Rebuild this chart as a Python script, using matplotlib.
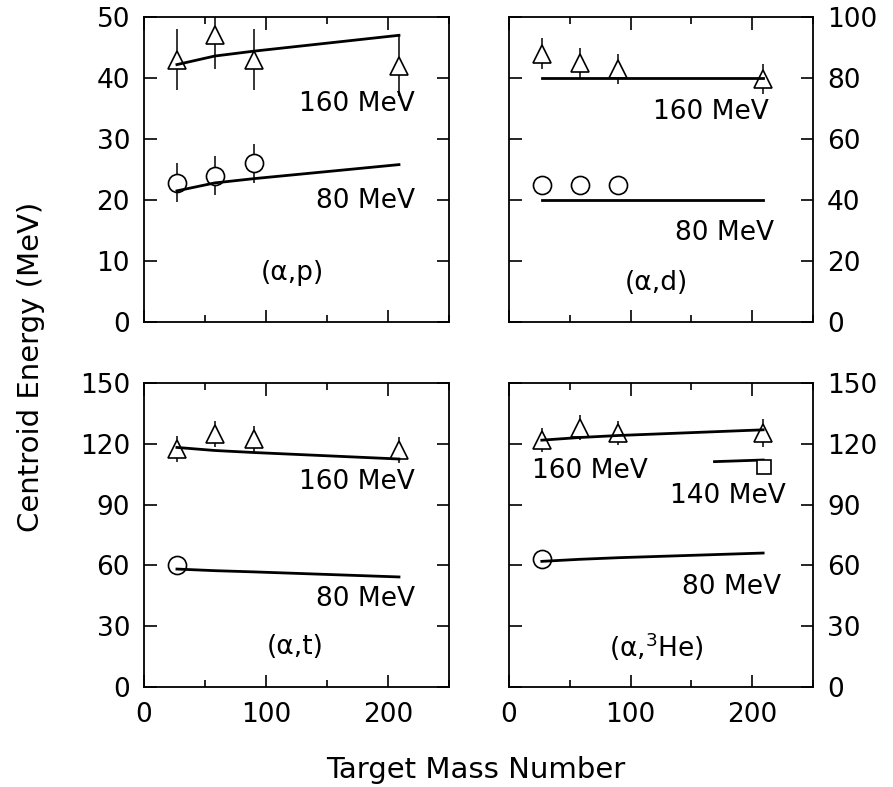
import matplotlib
matplotlib.use("Agg")
import matplotlib.pyplot as plt
from matplotlib.ticker import MultipleLocator

plt.rcParams['font.family'] = ['DejaVu Sans']
plt.rcParams['font.size'] = 19
plt.rcParams['mathtext.fontset'] = 'dejavusans'

# ---------------- data ----------------
A = [27, 58, 90, 209]

# (alpha,p)
p_160_E = [43.0, 47.0, 43.0, 42.0]
p_160_err = [5.0, 5.5, 5.0, 5.0]
p_160_calc = [42.2, 43.6, 44.4, 47.0]
p_80_E = [22.8, 24.0, 26.0]
p_80_err = [3.2, 3.2, 3.2]
p_80_calc = [21.5, 22.8, 23.5, 25.8]

# (alpha,d)
d_160_E = [88.0, 85.0, 83.0, 79.7]
d_160_err = [5.0, 5.0, 5.0, 5.0]
d_160_calc = [80.0, 80.0, 80.0, 80.0]
d_80_E = [45.0, 45.0, 45.0]
d_80_calc = [40.0, 40.0, 40.0, 40.0]

# (alpha,t)
t_160_E = [117.4, 124.8, 122.3, 116.9]
t_160_err = [6.5, 6.5, 6.5, 6.5]
t_160_calc = [118.2, 116.7, 115.7, 112.5]
t_80_E = [60.0]
t_80_calc = [58.2, 57.4, 56.8, 54.3]

# (alpha,3He)
h_160_E = [122.0, 128.0, 125.3, 125.3]
h_160_err = [6.0, 6.0, 6.0, 7.0]
h_160_calc = [121.8, 123.1, 124.1, 126.9]
h_140_A = [210]
h_140_E = [108.5]
h_140_calc_A = [169, 209]
h_140_calc = [111.2, 112.0]
h_80_E = [63.3]
h_80_calc = [62.0, 63.0, 63.8, 66.1]

x_ticks = [0, 100, 200]

# ---------------- figure ----------------
W, H = 893, 787
fig = plt.figure(figsize=(W / 100, H / 100), dpi=100)

def ax_at(x0, y0, x1, y1):
    return fig.add_axes([x0 / W, 1 - y1 / H, (x1 - x0) / W, (y1 - y0) / H])

ax_p = ax_at(144, 17, 449, 322)
ax_d = ax_at(509, 17, 813, 322)
ax_t = ax_at(144, 383, 449, 687)
ax_h = ax_at(509, 383, 813, 687)

LW = 2.0
MS = 13

def style(ax, ymax, ystep, right_labels, xlabels):
    ax.set_xlim(0, 250)
    ax.set_ylim(0, ymax)
    ax.xaxis.set_major_locator(MultipleLocator(100))
    ax.xaxis.set_minor_locator(MultipleLocator(50))
    ax.yaxis.set_major_locator(MultipleLocator(ystep))
    ax.tick_params(which='both', direction='in', top=True, right=True,
                   width=1.2, color='black')
    ax.tick_params(which='major', length=9)
    ax.tick_params(which='minor', length=5)
    ax.tick_params(axis='y', pad=10)
    ax.tick_params(axis='x', pad=11)
    ax.tick_params(labelbottom=xlabels, labelleft=not right_labels,
                   labelright=right_labels)
    for s in ax.spines.values():
        s.set_linewidth(1.3)

def tri(ax, x, y, err):
    ax.errorbar(x, y, yerr=err, fmt='none', ecolor='black', elinewidth=1.1,
                capsize=0, zorder=2)
    ax.plot(x, y, ls='none', marker='^', ms=MS, mfc='white', mec='black',
            mew=1.2, zorder=3)

def circ(ax, x, y, err=None):
    if err is not None:
        ax.errorbar(x, y, yerr=err, fmt='none', ecolor='black', elinewidth=1.1,
                    capsize=0, zorder=2)
    ax.plot(x, y, ls='none', marker='o', ms=MS, mfc='white', mec='black',
            mew=1.2, zorder=3)

# (alpha,p)
style(ax_p, 50, 10, False, False)
tri(ax_p, A, p_160_E, p_160_err)
ax_p.plot(A, p_160_calc, color='black', lw=LW, zorder=4)
circ(ax_p, A[:3], p_80_E, p_80_err)
ax_p.plot(A, p_80_calc, color='black', lw=LW, zorder=4)
ax_p.text(222, 35.7, '160 MeV', ha='right', va='center')
ax_p.text(222, 19.8, '80 MeV', ha='right', va='center')
ax_p.text(122, 8.0, '(α,p)', ha='center', va='center')

# (alpha,d)
style(ax_d, 100, 20, True, False)
tri(ax_d, A, d_160_E, d_160_err)
ax_d.plot(A, d_160_calc, color='black', lw=LW, zorder=4)
circ(ax_d, A[:3], d_80_E)
ax_d.plot(A, d_80_calc, color='black', lw=LW, zorder=4)
ax_d.text(214, 68.9, '160 MeV', ha='right', va='center')
ax_d.text(218, 29.2, '80 MeV', ha='right', va='center')
ax_d.text(121, 12.8, '(α,d)', ha='center', va='center')

# (alpha,t)
style(ax_t, 150, 30, False, True)
tri(ax_t, A, t_160_E, t_160_err)
ax_t.plot(A, t_160_calc, color='black', lw=LW, zorder=4)
circ(ax_t, A[:1], t_80_E)
ax_t.plot(A, t_80_calc, color='black', lw=LW, zorder=4)
ax_t.text(222, 101, '160 MeV', ha='right', va='center')
ax_t.text(222, 43.3, '80 MeV', ha='right', va='center')
ax_t.text(124, 19.7, '(α,t)', ha='center', va='center')
ax_t.set_xticks(x_ticks)

# (alpha,3He)
style(ax_h, 150, 30, True, True)
tri(ax_h, A, h_160_E, h_160_err)
ax_h.plot(A, h_160_calc, color='black', lw=LW, zorder=4)
ax_h.plot(h_140_calc_A, h_140_calc, color='black', lw=LW, zorder=2)
ax_h.plot(h_140_A, h_140_E, ls='none', marker='s', ms=10, mfc='white',
          mec='black', mew=1.2, zorder=3)
circ(ax_h, A[:1], h_80_E)
ax_h.plot(A, h_80_calc, color='black', lw=LW, zorder=4)
ax_h.text(19, 106.7, '160 MeV', ha='left', va='center')
ax_h.text(132, 94, '140 MeV', ha='left', va='center', clip_on=False)
ax_h.text(224, 49.2, '80 MeV', ha='right', va='center')
ax_h.text(121, 19.7, '(α,$^{3}$He)', ha='center', va='center')
ax_h.set_xticks(x_ticks)

fig.text(31 / W, 1 - 367 / H, 'Centroid Energy (MeV)', rotation=90,
         ha='center', va='center', fontsize=21)
fig.text(476 / W, 1 - 770 / H, 'Target Mass Number', ha='center',
         va='center', fontsize=21)

fig.savefig('out.png', dpi=100)
